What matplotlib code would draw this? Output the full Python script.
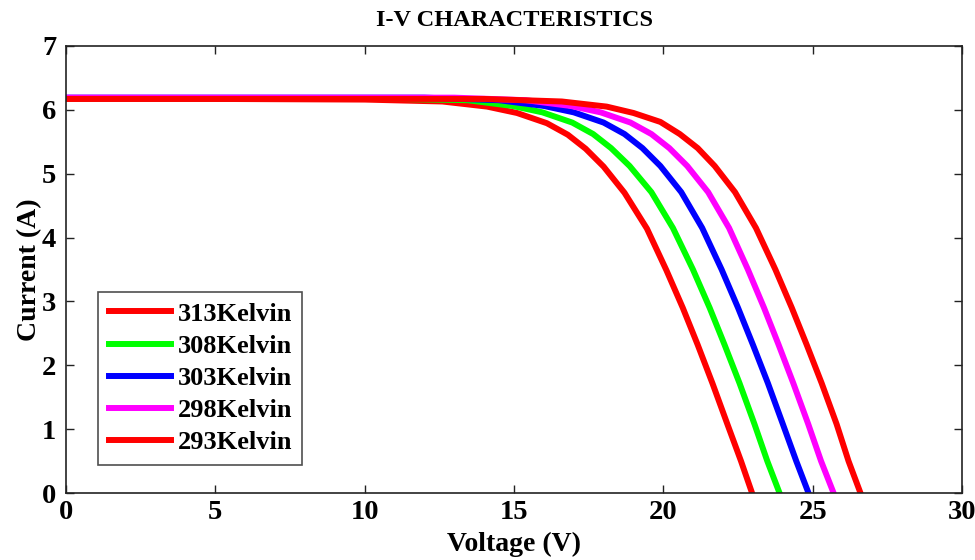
"""I-V characteristics of a PV module at five cell temperatures."""
import matplotlib
matplotlib.use("Agg")
import matplotlib.pyplot as plt

plt.rcParams["font.family"] = ["Liberation Serif", "DejaVu Serif"]
plt.rcParams["font.weight"] = "bold"

# values (voltage V, current A)
v_313 = [0, 5, 10, 12.6, 14.1, 15.1, 16.1, 16.8, 17.4, 18.0, 18.7, 19.45, 20.1, 20.65, 21.15, 21.65, 22.15, 22.6, 22.97]
i_313 = [6.17, 6.17, 6.16, 6.13, 6.05, 5.95, 5.79, 5.61, 5.39, 5.11, 4.70, 4.14, 3.49, 2.90, 2.32, 1.71, 1.07, 0.5, 0]

v_308 = [0, 5, 10, 13.45, 14.95, 15.95, 16.95, 17.65, 18.25, 18.87, 19.6, 20.32, 20.99, 21.55, 22.05, 22.55, 23.05, 23.48, 23.89]
i_308 = [6.18, 6.18, 6.18, 6.15, 6.06, 5.96, 5.80, 5.62, 5.40, 5.12, 4.71, 4.15, 3.50, 2.90, 2.32, 1.72, 1.08, 0.5, 0]

v_303 = [0, 5, 12, 14.5, 16.0, 17.0, 18.0, 18.7, 19.3, 19.9, 20.6, 21.3, 21.95, 22.5, 23.0, 23.5, 24.0, 24.45, 24.86]
i_303 = [6.19, 6.19, 6.19, 6.15, 6.06, 5.96, 5.80, 5.62, 5.40, 5.12, 4.71, 4.15, 3.50, 2.90, 2.32, 1.72, 1.08, 0.5, 0]

v_298 = [0, 5, 13, 15.4, 16.9, 17.9, 18.9, 19.6, 20.2, 20.8, 21.5, 22.2, 22.83, 23.37, 23.86, 24.35, 24.85, 25.28, 25.7]
i_298 = [6.19, 6.19, 6.19, 6.15, 6.06, 5.96, 5.80, 5.62, 5.40, 5.12, 4.71, 4.15, 3.50, 2.90, 2.32, 1.72, 1.08, 0.5, 0]

v_293 = [0, 5, 14, 16.6, 18.1, 19.0, 19.9, 20.55, 21.15, 21.72, 22.4, 23.1, 23.75, 24.3, 24.8, 25.3, 25.8, 26.2, 26.6]
i_293 = [6.17, 6.17, 6.17, 6.13, 6.05, 5.95, 5.81, 5.62, 5.40, 5.12, 4.71, 4.15, 3.50, 2.90, 2.32, 1.72, 1.08, 0.5, 0]

labels = ["313Kelvin", "308Kelvin", "303Kelvin", "298Kelvin", "293Kelvin"]
colors = ["#ff0000", "#00ff00", "#0000ff", "#ff00ff", "#ff0000"]

fig = plt.figure(figsize=(9.75, 5.6), dpi=100)
ax = fig.add_axes([0.0677, 0.1196, 0.919, 0.7984])

curves = [(v_313, i_313), (v_308, i_308), (v_303, i_303), (v_298, i_298), (v_293, i_293)]
for (v, i), lab, col in zip(curves, labels, colors):
    ax.plot(v, i, color=col, linewidth=4.3, label=lab, solid_joinstyle="round")

ax.set_xlim(0, 30)
ax.set_ylim(0, 7)
ax.set_xticks(range(0, 31, 5))
ax.set_yticks(range(0, 8))
ax.tick_params(direction="in", top=True, right=True, length=6, width=1,
               labelsize=20.5, colors="#222222", labelcolor="black")
ax.tick_params(axis="x", pad=5)
ax.tick_params(axis="y", pad=7)
for s in ax.spines.values():
    s.set_linewidth(1.2)
    s.set_color("#222222")

ax.set_xlabel("Voltage (V)", fontsize=20, fontweight="bold", labelpad=5)
ax.set_ylabel("Current (A)", fontsize=20, fontweight="bold", labelpad=0)
ax.set_title("I-V CHARACTERISTICS", fontsize=17.5, fontweight="bold", pad=14)

leg = ax.legend(loc="lower left", bbox_to_anchor=(0.036, 0.063), borderaxespad=0,
                fancybox=False, frameon=True, fontsize=19, handlelength=2.35,
                handletextpad=0.25, labelspacing=0.33, borderpad=0.4)
leg.get_frame().set_edgecolor("#222222")
leg.get_frame().set_linewidth(1.2)

fig.savefig("out.png", dpi=100)
